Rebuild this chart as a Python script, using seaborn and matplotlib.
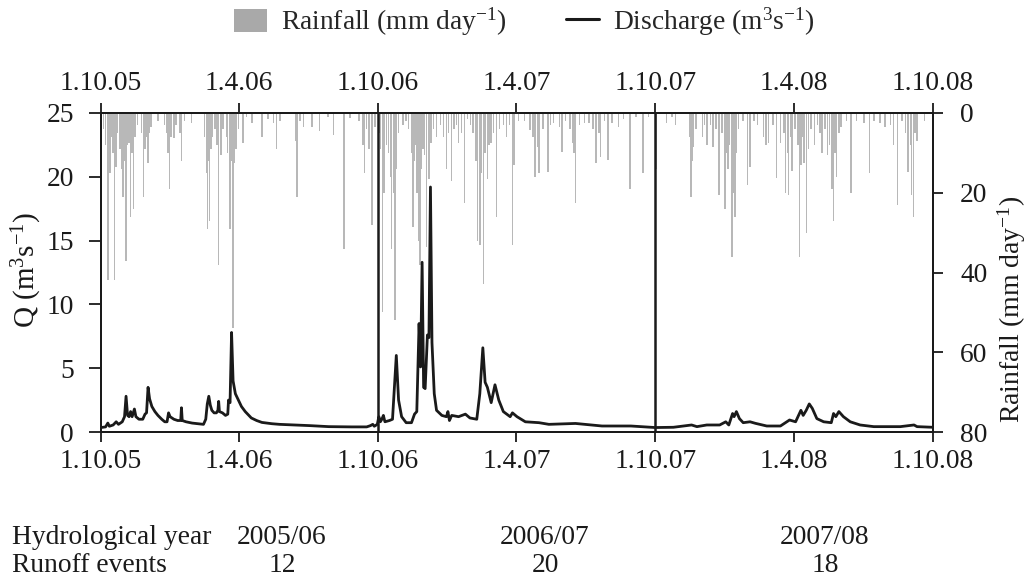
import numpy as np
import pandas as pd
import matplotlib
matplotlib.use("Agg")
import matplotlib.pyplot as plt
import seaborn as sns
from matplotlib.patches import Patch
from matplotlib.lines import Line2D

# ---------------- data ----------------
start_date = "2005-10-01"
end_date = "2008-10-01"

# discharge (m3/s): day offset from 1.10.05 and value
q_day = [0, 6, 9, 11, 16, 20, 23, 28, 31, 33, 35, 37, 39, 41, 44, 46, 50, 55, 58, 60,
         62, 64, 67, 71, 75, 80, 84, 87, 89, 91, 96, 101, 105, 106, 107, 112, 120, 128,
         135, 138, 140, 142, 144, 146, 149, 152, 154, 155, 156, 160, 164, 167, 168, 170,
         172, 174, 177, 181, 185, 190, 198, 205, 212, 225, 235, 255, 275, 300, 330, 350,
         355, 358, 360, 364,
         366, 368, 370, 372, 374, 380, 384, 386, 389, 392, 396, 402, 409, 413, 416, 419,
         421, 423, 425, 427, 430, 432, 434, 436, 439, 442, 449, 455, 457, 459, 462, 471,
         480, 486, 495, 499, 503, 506, 509, 514, 519, 524, 530, 539, 542, 548, 559, 577,
         590, 625, 660, 698, 726,
         730, 754, 778, 785, 798, 815, 823, 827, 832, 834, 837, 841, 846, 855, 862, 877,
         895, 907, 915, 922, 925, 929, 933, 937, 943, 952, 962, 965, 968, 972, 978, 987,
         1000, 1018, 1053, 1071, 1075, 1096]
q_val = [0.35, 0.4, 0.7, 0.45, 0.55, 0.8, 0.6, 0.8, 1.2, 2.8, 1.3, 1.2, 1.6, 1.2, 1.8,
         1.2, 1.0, 1.0, 1.4, 1.5, 3.5, 2.6, 2.0, 1.6, 1.3, 1.0, 0.8, 0.8, 1.5, 1.2, 1.0,
         0.9, 0.9, 1.9, 0.9, 0.8, 0.7, 0.65, 0.6, 1.0, 2.2, 2.8, 2.1, 1.7, 1.5, 1.5, 1.7,
         2.4, 1.6, 1.5, 1.3, 1.4, 2.5, 2.3, 7.8, 4.0, 3.0, 2.5, 2.0, 1.6, 1.1, 0.9, 0.75,
         0.65, 0.6, 0.55, 0.5, 0.42, 0.4, 0.4, 0.5, 0.6, 0.45, 0.6,
         1.2, 0.8, 1.0, 1.3, 0.8, 0.9, 1.0, 3.0, 6.0, 2.5, 1.2, 0.73, 0.73, 1.4, 1.6, 8.5,
         5.1, 13.3, 3.5, 3.4, 7.6, 7.4, 19.2, 7.0, 3.0, 1.7, 1.3, 1.2, 1.6, 0.9, 1.3, 1.2,
         1.4, 1.1, 1.0, 3.0, 6.6, 3.9, 3.5, 2.3, 3.7, 2.5, 1.6, 1.2, 1.5, 1.2, 0.8, 0.73,
         0.6, 0.67, 0.47, 0.47, 0.37,
         0.35, 0.37, 0.55, 0.42, 0.55, 0.55, 0.8, 0.55, 1.45, 1.2, 1.6, 1.05, 0.73, 0.8,
         0.68, 0.47, 0.47, 0.94, 0.8, 1.7, 1.3, 1.7, 2.2, 1.85, 1.05, 0.8, 0.73, 1.45, 1.2,
         1.6, 1.2, 0.8, 0.55, 0.42, 0.42, 0.55, 0.42, 0.37]

# rainfall (mm/day): day offset from 1.10.05 and amount
rain_day = [3, 6, 9, 12, 14, 16, 18, 20, 22, 25, 27, 29, 30, 31, 33, 35, 37, 39, 41, 43,
            45, 48, 53, 56, 58, 60, 62, 64, 66, 75, 84, 86, 88, 90, 92, 96, 99, 104, 106,
            110, 119, 136, 139, 140, 141, 143, 145, 147, 150, 153, 155, 158, 161, 165, 167,
            169, 170, 172, 174, 176, 178, 181, 187, 192, 199, 212, 220, 227, 231, 236, 256,
            258, 262, 267, 278, 288, 299, 306, 320, 328, 340, 345, 347, 350, 353, 357, 361,
            366, 368, 371, 373, 376, 379, 381, 383, 385, 387, 389, 392, 398, 402, 405, 409,
            411, 413, 414, 416, 418, 420, 422, 424, 426, 429, 432, 435, 438, 442, 447, 451,
            455, 458, 462, 465, 468, 471, 475, 479, 483, 487, 490, 493, 494, 496, 499, 501,
            504, 506, 509, 511, 514, 517, 521, 525, 530, 534, 538, 542, 544, 550, 558, 565,
            569, 572, 575, 577, 582, 589, 592, 596, 604, 607, 612, 618, 621, 623, 625, 630,
            637, 643, 648, 652, 656, 658, 663, 668, 673, 682, 688, 697, 705, 714, 721, 731,
            745, 752, 757, 775, 777, 779, 780, 784, 792, 795, 798, 803, 806, 810, 814, 818,
            822, 824, 826, 828, 831, 833, 835, 837, 840, 846, 852, 855, 860, 865, 873, 876,
            879, 885, 890, 895, 900, 902, 904, 906, 908, 910, 914, 918, 920, 922, 924, 926,
            929, 932, 935, 940, 944, 947, 950, 954, 957, 960, 963, 965, 967, 969, 972, 975,
            982, 988, 995, 1005, 1012, 1018, 1026, 1033, 1040, 1044, 1049, 1055, 1060, 1063,
            1066, 1068, 1070, 1072, 1075, 1085]
rain_mm = [4, 8, 42, 15, 6, 10, 42, 13.5, 5, 9, 14, 21, 18, 12, 37, 8, 7.5, 26, 10, 24,
           6, 3, 5, 21, 9, 6, 12.6, 5, 3.5, 2, 3, 5, 10, 19, 6, 6.3, 3, 5, 12,
           2, 2.6, 6, 15, 29, 12, 27, 9, 6, 4, 8, 38, 10.5, 4, 6, 10,
           13, 29, 12, 54, 12.5, 9, 4, 7.6, 1, 2.4, 6, 1.5, 2.4, 9, 2, 7,
           21, 2, 3.5, 3.5, 4.6, 1, 5.4, 34, 1.3, 2, 8, 15, 4, 9, 28, 3.5,
           5, 9, 50, 20, 8, 10, 16, 34, 20, 52, 14, 5, 3, 2, 4, 10,
           28.5, 12, 8, 20, 32, 38, 14, 9, 10.5, 33.5, 16.5, 7.5, 4, 6, 3, 6,
           14, 5, 17, 4, 3, 7.5, 5, 22.6, 1.5, 3, 5, 8, 12, 32, 33, 15,
           43, 10, 16.5, 8, 7.5, 5, 26, 4, 3, 6, 3, 33, 13, 2, 2, 4.3,
           6, 16, 8.5, 15, 4, 14.7, 3, 2.4, 3.5, 9.7, 2, 4, 7.5, 10, 22.6, 3,
           2.5, 2.5, 4, 12.6, 5, 11, 2, 11.8, 2.5, 3.5, 1.5, 19, 1, 15, 1, 14,
           2.5, 1, 3, 6, 21, 12, 8.5, 4, 6, 3, 8, 3, 8.5, 4, 20.6, 5,
           24, 10, 14, 8, 36, 20, 26, 10, 4, 2, 18, 13.5, 2, 3, 6, 8,
           7.5, 3, 16.4, 7.5, 5, 20, 10, 20.6, 6, 14.5, 4, 8, 36, 13, 6, 12.5,
           30, 9, 4, 8, 3, 5, 10, 4, 10.5, 8, 19, 27, 10, 16, 5, 3.5,
           2, 20, 2, 2.5, 15, 2, 2.5, 3.5, 3, 8, 23, 2, 5, 14.7,
           8, 20.6, 26, 5, 7, 2]

tick_dates = ["2005-10-01", "2006-04-01", "2006-10-01", "2007-04-01",
              "2007-10-01", "2008-04-01", "2008-10-01"]
tick_labels = ["1.10.05", "1.4.06", "1.10.06", "1.4.07", "1.10.07", "1.4.08", "1.10.08"]
year_bounds = ["2006-10-01", "2007-10-01"]
q_ticks = [0, 5, 10, 15, 20, 25]
rain_ticks = [0, 20, 40, 60, 80]
hydro_years = ["2005/06", "2006/07", "2007/08"]
runoff_events = ["12", "20", "18"]

# ---------------- styling ----------------
sns.set_style("ticks")
plt.rcParams["font.family"] = ["Liberation Serif", "DejaVu Serif"]
plt.rcParams["mathtext.fontset"] = "custom"
plt.rcParams["mathtext.rm"] = "Liberation Serif"
plt.rcParams["mathtext.it"] = "Liberation Serif:italic"
plt.rcParams["mathtext.bf"] = "Liberation Serif:bold"
FS = 19.8
INK = "#1a1a1a"
GRAY = "#b8b8b8"

start = pd.Timestamp(start_date)
end = pd.Timestamp(end_date)

fig = plt.figure(figsize=(10.32, 5.83), dpi=100)
W, H = 1032, 583
ax = fig.add_axes([101 / W, 1 - 432 / H, (933 - 101) / W, (432 - 113) / H])
ax2 = ax.twinx()
ax.set_zorder(ax2.get_zorder() + 1)
ax.patch.set_visible(False)

dfq = pd.DataFrame({"date": start + pd.to_timedelta(q_day, unit="D"), "Q": q_val})
sns.lineplot(data=dfq, x="date", y="Q", ax=ax, color=INK, linewidth=2.0,
             estimator=None, sort=True)

rain_dates = start + pd.to_timedelta(rain_day, unit="D")
ax2.bar(rain_dates, rain_mm, width=1.9, color=GRAY, linewidth=0, align="center")

for d in year_bounds:
    ax.axvline(pd.Timestamp(d), color=INK, linewidth=1.8)

ax.set_xlim(start, end)
ax.set_ylim(0, 25)
ax2.set_ylim(80, 0)

ax.set_xticks(pd.to_datetime(tick_dates))
ax.set_xticklabels(tick_labels)
ax.set_yticks(q_ticks)
ax.set_yticklabels([str(v) for v in q_ticks])
ax2.set_yticks(rain_ticks)
ax2.set_yticklabels([str(v) for v in rain_ticks])

ax.tick_params(axis="x", which="both", top=True, bottom=True, labeltop=True,
               labelbottom=True, direction="out", length=7.5, width=1.3, pad=5,
               labelsize=FS, colors=INK)
ax.tick_params(axis="y", direction="out", length=8.5, width=1.3, pad=11,
               labelsize=FS, colors=INK)
ax2.tick_params(axis="y", direction="out", length=7.5, width=1.3, pad=12,
                labelsize=FS, colors=INK)

for a in (ax, ax2):
    for s in a.spines.values():
        s.set_visible(True)
        s.set_linewidth(1.4)
        s.set_color(INK)

ax.set_xlabel("")
ax.set_ylabel("Q (m$^{3}$s$^{-1}$)", fontsize=21, color=INK)
ax.yaxis.set_label_coords((44 - 101) / 832, 0.508)
ax2.set_ylabel("Rainfall (mm day$^{-1}$)", fontsize=20, color=INK)
ax2.yaxis.set_label_coords((996 - 101) / 832, 0.385)

handles = [Patch(facecolor="#a9a9a9", edgecolor="none"),
           Line2D([0], [0], color=INK, linewidth=2.2)]
labels = ["Rainfall (mm day$^{-1}$)", "Discharge (m$^{3}$s$^{-1}$)"]
fig.legend(handles, labels, loc="center", bbox_to_anchor=(0.508, 1 - 22 / H),
           ncol=2, frameon=False, fontsize=FS, columnspacing=2.2,
           handlelength=1.2, handleheight=0.9, handletextpad=0.5)

# annotation rows below the chart
fig.text(12 / W, 1 - 538 / H, "Hydrological year", fontsize=FS, color=INK,
         ha="left", va="center")
fig.text(12 / W, 1 - 566 / H, "Runoff events", fontsize=FS, color=INK,
         ha="left", va="center")
for xc, yr, ev in zip([282, 545, 825], hydro_years, runoff_events):
    fig.text(xc / W, 1 - 538 / H, yr, fontsize=FS, color=INK, ha="center", va="center")
    fig.text(xc / W, 1 - 566 / H, ev, fontsize=FS, color=INK, ha="center", va="center")

fig.savefig("out.png", dpi=100)
